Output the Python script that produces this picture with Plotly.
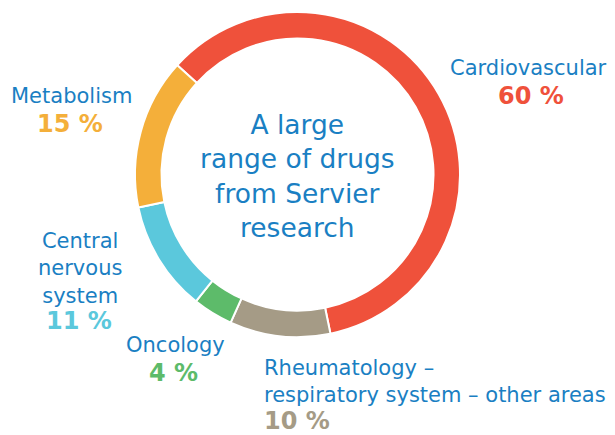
import plotly.graph_objects as go

# Data
categories = ["Cardiovascular", "Rheumatology – respiratory system – other areas",
              "Oncology", "Central nervous system", "Metabolism"]
values = [60, 10, 4, 11, 15]
colors = ["#EF513B", "#A59B86", "#5DBB6A", "#5BC8DC", "#F4AF3A"]
# label texts (with line breaks as in the reference)
label_texts = ["Cardiovascular", "Rheumatology –<br>respiratory system – other areas",
               "Oncology", "Central<br>nervous<br>system", "Metabolism"]
center_text = "A large<br>range of drugs<br>from Servier<br>research"

BLUE = "#1A7FC3"
FONT = "DejaVu Sans"

W, H = 615, 435
cx, cy, r = 297.5, 174.5, 162.5

fig = go.Figure(go.Pie(
    labels=categories, values=values, sort=False, direction="clockwise",
    rotation=-47.7, hole=0.837,
    marker=dict(colors=colors, line=dict(color="white", width=2)),
    textinfo="none", showlegend=False,
    domain=dict(x=[(cx - r) / W, (cx + r) / W], y=[(H - cy - r) / H, (H - cy + r) / H]),
))

# label layout: (name x, name y, pct x, pct y, xanchor) in pixels from top-left
pos = [
    (528, 68, 531, 96, "center"),
    (262, 381, 262, 421, "left"),
    (175, 345, 174, 373, "center"),
    (80, 268, 79, 321, "center"),
    (71, 96, 70, 124, "center"),
]

ann = []
for txt, v, c, (nx, ny, px, py, xa) in zip(label_texts, values, colors, pos):
    ann.append(dict(x=nx / W, y=1 - ny / H, xref="paper", yref="paper", text=txt,
                    showarrow=False, xanchor=xa, yanchor="middle", align=xa,
                    font=dict(family=FONT, size=21, color=BLUE)))
    ann.append(dict(x=px / W, y=1 - py / H, xref="paper", yref="paper",
                    text="<b>%d %%</b>" % v, showarrow=False, xanchor=xa, yanchor="middle",
                    font=dict(family=FONT, size=24, color=c)))

ann.append(dict(x=cx / W, y=1 - 176.5 / H, xref="paper", yref="paper", text=center_text,
                showarrow=False, xanchor="center", yanchor="middle", align="center",
                font=dict(family=FONT, size=26.5, color=BLUE)))

fig.update_layout(width=W, height=H, margin=dict(l=0, r=0, t=0, b=0),
                  paper_bgcolor="white", plot_bgcolor="white", annotations=ann)

fig.write_html("out.html", config={"displayModeBar": False},
               post_script="document.body.style.margin='0';")
